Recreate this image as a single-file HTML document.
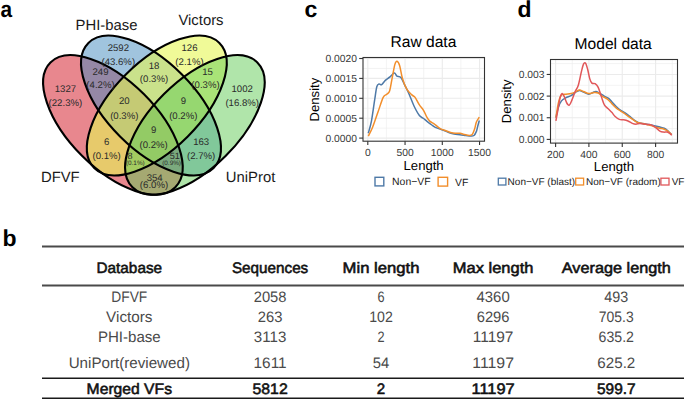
<!DOCTYPE html><html><head><meta charset="utf-8"><style>html,body{margin:0;padding:0;background:#fff;}svg{display:block;}text{font-family:"Liberation Sans",sans-serif;text-rendering:geometricPrecision;}</style></head><body>
<svg width="685" height="400" viewBox="0 0 685 400">
<rect width="685" height="400" fill="#fff"/>
<text x="304.5" y="17.1" font-size="23" font-weight="bold" fill="#000">c</text>
<text x="517.5" y="17.1" font-size="23" font-weight="bold" fill="#000">d</text>
<text x="2.5" y="246" font-size="23" font-weight="bold" fill="#000">b</text>
<text x="0.6" y="17.1" font-size="23" font-weight="bold" fill="#000" textLength="11.6" lengthAdjust="spacingAndGlyphs">a</text>
<ellipse cx="112.9" cy="124.9" rx="88.3" ry="43.7" transform="rotate(45 112.9 124.9)" fill="#D10F1D" fill-opacity="0.5"/>
<ellipse cx="151.0" cy="105.5" rx="88.5" ry="43.8" transform="rotate(45 151.0 105.5)" fill="#4189BD" fill-opacity="0.5"/>
<ellipse cx="156.8" cy="105.5" rx="88.5" ry="43.8" transform="rotate(-45 156.8 105.5)" fill="#E6F753" fill-opacity="0.6"/>
<ellipse cx="194.9" cy="124.9" rx="88.3" ry="43.7" transform="rotate(-45 194.9 124.9)" fill="#61CB55" fill-opacity="0.5"/>
<ellipse cx="112.9" cy="124.9" rx="88.3" ry="43.7" transform="rotate(45 112.9 124.9)" fill="none" stroke="#000" stroke-width="2.1"/>
<ellipse cx="151.0" cy="105.5" rx="88.5" ry="43.8" transform="rotate(45 151.0 105.5)" fill="none" stroke="#000" stroke-width="2.1"/>
<ellipse cx="156.8" cy="105.5" rx="88.5" ry="43.8" transform="rotate(-45 156.8 105.5)" fill="none" stroke="#000" stroke-width="2.1"/>
<ellipse cx="194.9" cy="124.9" rx="88.3" ry="43.7" transform="rotate(-45 194.9 124.9)" fill="none" stroke="#000" stroke-width="2.1"/>
<text x="106.5" y="29.6" font-size="14.85" text-anchor="middle" fill="#1a1a1a">PHI-base</text>
<text x="201" y="24.6" font-size="14.85" text-anchor="middle" fill="#1a1a1a">Victors</text>
<text x="60.3" y="182.3" font-size="14.85" text-anchor="middle" fill="#1a1a1a">DFVF</text>
<text x="250.6" y="182.3" font-size="14.85" text-anchor="middle" fill="#1a1a1a">UniProt</text>
<text x="118.3" y="51.0" font-size="9.6" text-anchor="middle" fill="#2a2a2a">2592</text>
<text x="118.3" y="65.0" font-size="9.6" text-anchor="middle" fill="#2a2a2a">(43.6%)</text>
<text x="189.5" y="50.9" font-size="9.6" text-anchor="middle" fill="#2a2a2a">126</text>
<text x="189.5" y="64.8" font-size="9.6" text-anchor="middle" fill="#2a2a2a">(2.1%)</text>
<text x="65.4" y="92.0" font-size="9.6" text-anchor="middle" fill="#2a2a2a">1327</text>
<text x="65.4" y="105.9" font-size="9.6" text-anchor="middle" fill="#2a2a2a">(22.3%)</text>
<text x="242.2" y="92.0" font-size="9.6" text-anchor="middle" fill="#2a2a2a">1002</text>
<text x="242.2" y="105.9" font-size="9.6" text-anchor="middle" fill="#2a2a2a">(16.8%)</text>
<text x="100.5" y="74.6" font-size="9.6" text-anchor="middle" fill="#2a2a2a">249</text>
<text x="100.5" y="88.2" font-size="9.6" text-anchor="middle" fill="#2a2a2a">(4.2%)</text>
<text x="154" y="69.0" font-size="9.6" text-anchor="middle" fill="#2a2a2a">18</text>
<text x="154" y="82.4" font-size="9.6" text-anchor="middle" fill="#2a2a2a">(0.3%)</text>
<text x="124.3" y="104.3" font-size="9.6" text-anchor="middle" fill="#2a2a2a">20</text>
<text x="124.3" y="118.5" font-size="9.6" text-anchor="middle" fill="#2a2a2a">(0.3%)</text>
<text x="183.3" y="104.3" font-size="9.6" text-anchor="middle" fill="#2a2a2a">9</text>
<text x="183.3" y="118.5" font-size="9.6" text-anchor="middle" fill="#2a2a2a">(0.2%)</text>
<text x="153.6" y="132.9" font-size="9.6" text-anchor="middle" fill="#2a2a2a">9</text>
<text x="153.6" y="147.7" font-size="9.6" text-anchor="middle" fill="#2a2a2a">(0.2%)</text>
<text x="106.7" y="145.1" font-size="9.6" text-anchor="middle" fill="#2a2a2a">6</text>
<text x="106.7" y="158.8" font-size="9.6" text-anchor="middle" fill="#2a2a2a">(0.1%)</text>
<text x="201.2" y="145.0" font-size="9.6" text-anchor="middle" fill="#2a2a2a">163</text>
<text x="201.2" y="158.7" font-size="9.6" text-anchor="middle" fill="#2a2a2a">(2.7%)</text>
<text x="207.5" y="74.6" font-size="9.6" text-anchor="middle" fill="#2a2a2a">15</text>
<text x="205.5" y="88.3" font-size="9.6" text-anchor="middle" fill="#2a2a2a">(0.3%)</text>
<text x="154.7" y="180.9" font-size="9.6" text-anchor="middle" fill="#2a2a2a">354</text>
<text x="154" y="188.0" font-size="9.6" text-anchor="middle" fill="#2a2a2a">(6.0%)</text>
<text x="127.4" y="158.9" font-size="9.1" fill="#2a2a2a">8</text>
<text x="125.9" y="165.2" font-size="6.4" fill="#2a2a2a">(0.1%)</text>
<text x="179.8" y="158.9" font-size="9.1" text-anchor="end" fill="#2a2a2a">51</text>
<text x="181" y="165.2" font-size="6.4" text-anchor="end" fill="#2a2a2a">(0.9%)</text>
<rect x="363" y="57.5" width="121.5" height="83.69999999999999" fill="#fff"/>
<line x1="386.4" y1="57.5" x2="386.4" y2="141.2" stroke="#EBEBEB" stroke-width="0.6"/>
<line x1="423.7" y1="57.5" x2="423.7" y2="141.2" stroke="#EBEBEB" stroke-width="0.6"/>
<line x1="460.9" y1="57.5" x2="460.9" y2="141.2" stroke="#EBEBEB" stroke-width="0.6"/>
<line x1="363" y1="128.15" x2="484.5" y2="128.15" stroke="#EBEBEB" stroke-width="0.6"/>
<line x1="363" y1="108.25" x2="484.5" y2="108.25" stroke="#EBEBEB" stroke-width="0.6"/>
<line x1="363" y1="88.35" x2="484.5" y2="88.35" stroke="#EBEBEB" stroke-width="0.6"/>
<line x1="363" y1="68.45" x2="484.5" y2="68.45" stroke="#EBEBEB" stroke-width="0.6"/>
<line x1="367.8" y1="57.5" x2="367.8" y2="141.2" stroke="#EBEBEB" stroke-width="1.1"/>
<line x1="405.05" y1="57.5" x2="405.05" y2="141.2" stroke="#EBEBEB" stroke-width="1.1"/>
<line x1="442.3" y1="57.5" x2="442.3" y2="141.2" stroke="#EBEBEB" stroke-width="1.1"/>
<line x1="479.55" y1="57.5" x2="479.55" y2="141.2" stroke="#EBEBEB" stroke-width="1.1"/>
<line x1="363" y1="138.1" x2="484.5" y2="138.1" stroke="#EBEBEB" stroke-width="1.1"/>
<line x1="363" y1="118.2" x2="484.5" y2="118.2" stroke="#EBEBEB" stroke-width="1.1"/>
<line x1="363" y1="98.3" x2="484.5" y2="98.3" stroke="#EBEBEB" stroke-width="1.1"/>
<line x1="363" y1="78.4" x2="484.5" y2="78.4" stroke="#EBEBEB" stroke-width="1.1"/>
<line x1="363" y1="58.5" x2="484.5" y2="58.5" stroke="#EBEBEB" stroke-width="1.1"/>
<path d="M368.30,133.20 C368.83,131.13 370.43,126.40 371.50,120.80 C372.57,115.20 373.82,105.27 374.70,99.60 C375.58,93.93 376.08,89.40 376.80,86.80 C377.52,84.20 378.18,84.35 379.00,84.00 C379.82,83.65 380.65,85.30 381.70,84.70 C382.75,84.10 383.98,81.65 385.30,80.40 C386.62,79.15 388.10,78.43 389.60,77.20 C391.10,75.97 393.07,73.18 394.30,73.00 C395.53,72.82 395.90,75.33 397.00,76.10 C398.10,76.87 399.65,76.17 400.90,77.60 C402.15,79.03 403.20,82.10 404.50,84.70 C405.80,87.30 407.12,89.65 408.70,93.20 C410.28,96.75 412.22,102.28 414.00,106.00 C415.78,109.72 417.82,113.42 419.40,115.50 C420.98,117.58 422.23,117.52 423.50,118.50 C424.77,119.48 425.62,120.32 427.00,121.40 C428.38,122.48 430.42,124.02 431.80,125.00 C433.18,125.98 433.93,126.62 435.30,127.30 C436.67,127.98 438.43,128.52 440.00,129.10 C441.57,129.68 443.13,130.18 444.70,130.80 C446.27,131.42 447.83,132.25 449.40,132.80 C450.97,133.35 452.33,133.78 454.10,134.10 C455.87,134.42 458.05,134.47 460.00,134.70 C461.95,134.93 464.05,135.27 465.80,135.50 C467.55,135.73 469.13,136.10 470.50,136.10 C471.87,136.10 473.02,136.28 474.00,135.50 C474.98,134.72 475.80,132.87 476.40,131.40 C477.00,129.93 477.12,128.52 477.60,126.70 C478.08,124.88 479.02,121.53 479.30,120.50" fill="none" stroke="#4E79A7" stroke-width="1.5" stroke-linejoin="round"/>
<path d="M368.30,136.10 C369.02,134.62 371.00,131.17 372.60,127.20 C374.20,123.23 376.13,117.27 377.90,112.30 C379.67,107.33 381.72,100.42 383.20,97.40 C384.68,94.38 385.73,95.27 386.80,94.20 C387.87,93.13 388.72,93.65 389.60,91.00 C390.48,88.35 391.22,82.73 392.10,78.30 C392.98,73.87 394.08,67.23 394.90,64.40 C395.72,61.57 396.22,61.12 397.00,61.30 C397.78,61.48 398.70,62.67 399.60,65.50 C400.50,68.33 401.23,74.40 402.40,78.30 C403.57,82.20 405.02,86.13 406.60,88.90 C408.18,91.67 410.48,93.48 411.90,94.90 C413.32,96.32 413.85,95.73 415.10,97.40 C416.35,99.07 418.00,102.75 419.40,104.90 C420.80,107.05 422.23,108.23 423.50,110.30 C424.77,112.37 425.92,115.45 427.00,117.30 C428.08,119.15 428.82,120.32 430.00,121.40 C431.18,122.48 432.83,122.92 434.10,123.80 C435.37,124.68 436.42,125.82 437.60,126.70 C438.78,127.58 439.82,128.42 441.20,129.10 C442.58,129.78 444.33,130.25 445.90,130.80 C447.47,131.35 449.03,132.00 450.60,132.40 C452.17,132.80 453.73,133.07 455.30,133.20 C456.87,133.33 458.43,132.97 460.00,133.20 C461.57,133.43 463.13,134.22 464.70,134.60 C466.27,134.98 468.13,135.53 469.40,135.50 C470.67,135.47 471.43,135.47 472.30,134.40 C473.17,133.33 473.92,131.17 474.60,129.10 C475.28,127.03 475.62,123.98 476.40,122.00 C477.18,120.02 478.82,118.00 479.30,117.20" fill="none" stroke="#F28E2B" stroke-width="1.5" stroke-linejoin="round"/>
<rect x="363" y="57.5" width="121.5" height="83.69999999999999" fill="none" stroke="#333" stroke-width="1.1"/>
<line x1="367.8" y1="141.2" x2="367.8" y2="145.0" stroke="#333" stroke-width="1.1"/>
<text x="367.8" y="155.7" font-size="10.3" text-anchor="middle" fill="#383838">0</text>
<line x1="405.05" y1="141.2" x2="405.05" y2="145.0" stroke="#333" stroke-width="1.1"/>
<text x="405.05" y="155.7" font-size="10.3" text-anchor="middle" fill="#383838">500</text>
<line x1="442.3" y1="141.2" x2="442.3" y2="145.0" stroke="#333" stroke-width="1.1"/>
<text x="442.3" y="155.7" font-size="10.3" text-anchor="middle" fill="#383838">1000</text>
<line x1="479.55" y1="141.2" x2="479.55" y2="145.0" stroke="#333" stroke-width="1.1"/>
<text x="479.55" y="155.7" font-size="10.3" text-anchor="middle" fill="#383838">1500</text>
<line x1="359.2" y1="138.1" x2="363" y2="138.1" stroke="#333" stroke-width="1.1"/>
<text x="357" y="141.79999999999998" font-size="10.3" text-anchor="end" fill="#383838">0.0000</text>
<line x1="359.2" y1="118.2" x2="363" y2="118.2" stroke="#333" stroke-width="1.1"/>
<text x="357" y="121.9" font-size="10.3" text-anchor="end" fill="#383838">0.0005</text>
<line x1="359.2" y1="98.3" x2="363" y2="98.3" stroke="#333" stroke-width="1.1"/>
<text x="357" y="102.0" font-size="10.3" text-anchor="end" fill="#383838">0.0010</text>
<line x1="359.2" y1="78.4" x2="363" y2="78.4" stroke="#333" stroke-width="1.1"/>
<text x="357" y="82.10000000000001" font-size="10.3" text-anchor="end" fill="#383838">0.0015</text>
<line x1="359.2" y1="58.5" x2="363" y2="58.5" stroke="#333" stroke-width="1.1"/>
<text x="357" y="62.2" font-size="10.3" text-anchor="end" fill="#383838">0.0020</text>
<text x="423.4" y="47.1" font-size="15.6" text-anchor="middle" fill="#000">Raw data</text>
<text x="423.6" y="169.6" font-size="13.1" text-anchor="middle" fill="#000">Length</text>
<text transform="translate(318.6,99.6) rotate(-90)" x="0" y="0" font-size="13.1" text-anchor="middle" fill="#000">Density</text>
<rect x="375" y="177.3" width="8.8" height="8.6" fill="#fff" stroke="#4E79A7" stroke-width="1.4"/>
<text x="392.1" y="185.4" font-size="10.4" fill="#1a1a1a">Non−VF</text>
<rect x="438.1" y="177.3" width="9.5" height="8.8" fill="#fff" stroke="#F28E2B" stroke-width="1.4"/>
<text x="455" y="185.5" font-size="10.4" fill="#1a1a1a">VF</text>
<rect x="550.5" y="59.5" width="127.0" height="83.6" fill="#fff"/>
<line x1="572.25" y1="59.5" x2="572.25" y2="143.1" stroke="#EBEBEB" stroke-width="0.6"/>
<line x1="605.6" y1="59.5" x2="605.6" y2="143.1" stroke="#EBEBEB" stroke-width="0.6"/>
<line x1="638.9" y1="59.5" x2="638.9" y2="143.1" stroke="#EBEBEB" stroke-width="0.6"/>
<line x1="672.25" y1="59.5" x2="672.25" y2="143.1" stroke="#EBEBEB" stroke-width="0.6"/>
<line x1="550.5" y1="128.6" x2="677.5" y2="128.6" stroke="#EBEBEB" stroke-width="0.6"/>
<line x1="550.5" y1="106.9" x2="677.5" y2="106.9" stroke="#EBEBEB" stroke-width="0.6"/>
<line x1="550.5" y1="85.3" x2="677.5" y2="85.3" stroke="#EBEBEB" stroke-width="0.6"/>
<line x1="550.5" y1="63.6" x2="677.5" y2="63.6" stroke="#EBEBEB" stroke-width="0.6"/>
<line x1="555.6" y1="59.5" x2="555.6" y2="143.1" stroke="#EBEBEB" stroke-width="1.1"/>
<line x1="588.9" y1="59.5" x2="588.9" y2="143.1" stroke="#EBEBEB" stroke-width="1.1"/>
<line x1="622.25" y1="59.5" x2="622.25" y2="143.1" stroke="#EBEBEB" stroke-width="1.1"/>
<line x1="655.6" y1="59.5" x2="655.6" y2="143.1" stroke="#EBEBEB" stroke-width="1.1"/>
<line x1="550.5" y1="139.4" x2="677.5" y2="139.4" stroke="#EBEBEB" stroke-width="1.1"/>
<line x1="550.5" y1="117.75" x2="677.5" y2="117.75" stroke="#EBEBEB" stroke-width="1.1"/>
<line x1="550.5" y1="96.1" x2="677.5" y2="96.1" stroke="#EBEBEB" stroke-width="1.1"/>
<line x1="550.5" y1="74.45" x2="677.5" y2="74.45" stroke="#EBEBEB" stroke-width="1.1"/>
<path d="M555.90,117.70 C556.32,115.95 557.47,110.00 558.40,107.20 C559.33,104.40 560.28,102.47 561.50,100.90 C562.72,99.33 564.12,98.67 565.70,97.80 C567.28,96.93 569.42,96.58 571.00,95.70 C572.58,94.82 573.80,93.38 575.20,92.50 C576.60,91.62 578.02,90.47 579.40,90.40 C580.78,90.33 581.93,91.47 583.50,92.10 C585.07,92.73 587.22,94.13 588.80,94.20 C590.38,94.27 591.78,92.95 593.00,92.50 C594.22,92.05 594.88,91.32 596.10,91.50 C597.32,91.68 598.90,92.80 600.30,93.60 C601.70,94.40 603.10,95.50 604.50,96.30 C605.90,97.10 607.45,97.43 608.70,98.40 C609.95,99.37 610.72,100.70 612.00,102.10 C613.28,103.50 614.95,105.42 616.40,106.80 C617.85,108.18 619.25,109.38 620.70,110.40 C622.15,111.42 623.65,111.93 625.10,112.90 C626.55,113.87 627.95,115.05 629.40,116.20 C630.85,117.35 632.35,118.77 633.80,119.80 C635.25,120.83 636.65,121.80 638.10,122.40 C639.55,123.00 641.05,123.10 642.50,123.40 C643.95,123.70 645.35,123.95 646.80,124.20 C648.25,124.45 649.75,124.60 651.20,124.90 C652.65,125.20 654.05,125.63 655.50,126.00 C656.95,126.37 658.45,126.73 659.90,127.10 C661.35,127.47 662.88,127.60 664.20,128.20 C665.52,128.80 666.58,129.63 667.80,130.70 C669.02,131.77 670.88,133.95 671.50,134.60" fill="none" stroke="#4E79A7" stroke-width="1.5" stroke-linejoin="round"/>
<path d="M555.90,117.70 C556.32,115.25 557.57,106.67 558.40,103.00 C559.23,99.33 559.85,97.17 560.90,95.70 C561.95,94.23 563.02,94.55 564.70,94.20 C566.38,93.85 569.25,93.95 571.00,93.60 C572.75,93.25 573.80,92.70 575.20,92.10 C576.60,91.50 578.02,90.10 579.40,90.00 C580.78,89.90 581.93,90.90 583.50,91.50 C585.07,92.10 587.05,93.43 588.80,93.60 C590.55,93.77 592.43,92.60 594.00,92.50 C595.57,92.40 596.80,92.37 598.20,93.00 C599.60,93.63 600.82,95.25 602.40,96.30 C603.98,97.35 606.10,98.03 607.70,99.30 C609.30,100.57 610.55,102.42 612.00,103.90 C613.45,105.38 614.95,107.00 616.40,108.20 C617.85,109.40 619.25,110.13 620.70,111.10 C622.15,112.07 623.65,112.98 625.10,114.00 C626.55,115.02 627.95,116.17 629.40,117.20 C630.85,118.23 632.35,119.28 633.80,120.20 C635.25,121.12 636.65,122.17 638.10,122.70 C639.55,123.23 641.05,123.10 642.50,123.40 C643.95,123.70 645.35,124.13 646.80,124.50 C648.25,124.87 649.75,125.17 651.20,125.60 C652.65,126.03 654.05,126.67 655.50,127.10 C656.95,127.53 658.45,127.85 659.90,128.20 C661.35,128.55 662.88,128.72 664.20,129.20 C665.52,129.68 666.58,130.20 667.80,131.10 C669.02,132.00 670.88,134.02 671.50,134.60" fill="none" stroke="#F28E2B" stroke-width="1.5" stroke-linejoin="round"/>
<path d="M555.90,120.80 C556.25,118.88 557.30,113.13 558.00,109.30 C558.70,105.47 559.40,100.42 560.10,97.80 C560.80,95.18 561.50,93.78 562.20,93.60 C562.90,93.42 563.53,95.13 564.30,96.70 C565.07,98.27 565.97,101.60 566.80,103.00 C567.63,104.40 568.43,105.62 569.30,105.10 C570.17,104.58 571.02,102.17 572.00,99.90 C572.98,97.63 574.15,93.95 575.20,91.50 C576.25,89.05 577.27,88.52 578.30,85.20 C579.33,81.88 580.53,75.10 581.40,71.60 C582.27,68.10 582.80,65.60 583.50,64.20 C584.20,62.80 584.90,62.32 585.60,63.20 C586.30,64.08 587.00,66.88 587.70,69.50 C588.40,72.12 589.10,76.63 589.80,78.90 C590.50,81.17 591.02,82.30 591.90,83.10 C592.78,83.90 594.05,83.00 595.10,83.70 C596.15,84.40 597.15,85.13 598.20,87.30 C599.25,89.47 600.35,93.73 601.40,96.70 C602.45,99.67 603.28,103.00 604.50,105.10 C605.72,107.20 607.45,108.05 608.70,109.30 C609.95,110.55 610.97,111.45 612.00,112.60 C613.03,113.75 613.68,115.07 614.90,116.20 C616.12,117.33 617.85,118.80 619.30,119.40 C620.75,120.00 622.15,119.53 623.60,119.80 C625.05,120.07 626.55,120.40 628.00,121.00 C629.45,121.60 630.98,122.87 632.30,123.40 C633.62,123.93 634.68,124.20 635.90,124.20 C637.12,124.20 638.27,123.45 639.60,123.40 C640.93,123.35 642.45,123.72 643.90,123.90 C645.35,124.08 647.08,124.33 648.30,124.50 C649.52,124.67 650.00,124.42 651.20,124.90 C652.40,125.38 654.05,126.37 655.50,127.40 C656.95,128.43 658.57,130.32 659.90,131.10 C661.23,131.88 662.30,131.93 663.50,132.10 C664.70,132.27 666.02,131.85 667.10,132.10 C668.18,132.35 669.22,133.07 670.00,133.60 C670.78,134.13 671.50,135.02 671.80,135.30" fill="none" stroke="#E15759" stroke-width="1.5" stroke-linejoin="round"/>
<rect x="550.5" y="59.5" width="127.0" height="83.6" fill="none" stroke="#333" stroke-width="1.1"/>
<line x1="555.6" y1="143.1" x2="555.6" y2="146.9" stroke="#333" stroke-width="1.1"/>
<text x="555.6" y="157.6" font-size="10.3" text-anchor="middle" fill="#383838">200</text>
<line x1="588.9" y1="143.1" x2="588.9" y2="146.9" stroke="#333" stroke-width="1.1"/>
<text x="588.9" y="157.6" font-size="10.3" text-anchor="middle" fill="#383838">400</text>
<line x1="622.25" y1="143.1" x2="622.25" y2="146.9" stroke="#333" stroke-width="1.1"/>
<text x="622.25" y="157.6" font-size="10.3" text-anchor="middle" fill="#383838">600</text>
<line x1="655.6" y1="143.1" x2="655.6" y2="146.9" stroke="#333" stroke-width="1.1"/>
<text x="655.6" y="157.6" font-size="10.3" text-anchor="middle" fill="#383838">800</text>
<line x1="546.7" y1="139.4" x2="550.5" y2="139.4" stroke="#333" stroke-width="1.1"/>
<text x="544.5" y="143.1" font-size="10.3" text-anchor="end" fill="#383838">0.000</text>
<line x1="546.7" y1="117.75" x2="550.5" y2="117.75" stroke="#333" stroke-width="1.1"/>
<text x="544.5" y="121.45" font-size="10.3" text-anchor="end" fill="#383838">0.001</text>
<line x1="546.7" y1="96.1" x2="550.5" y2="96.1" stroke="#333" stroke-width="1.1"/>
<text x="544.5" y="99.8" font-size="10.3" text-anchor="end" fill="#383838">0.002</text>
<line x1="546.7" y1="74.45" x2="550.5" y2="74.45" stroke="#333" stroke-width="1.1"/>
<text x="544.5" y="78.15" font-size="10.3" text-anchor="end" fill="#383838">0.003</text>
<text x="613.2" y="48.7" font-size="15.6" text-anchor="middle" fill="#000">Model data</text>
<text x="613.9" y="171.3" font-size="13.1" text-anchor="middle" fill="#000">Length</text>
<text transform="translate(511.2,101.3) rotate(-90)" x="0" y="0" font-size="13.1" text-anchor="middle" fill="#000">Density</text>
<rect x="498.3" y="178.2" width="7.6" height="6.8" fill="#fff" stroke="#4E79A7" stroke-width="1.3"/>
<text x="507.6" y="185.4" font-size="10" fill="#1a1a1a">Non−VF (blast)</text>
<rect x="575.7" y="178.2" width="7.9" height="6.8" fill="#fff" stroke="#F28E2B" stroke-width="1.3"/>
<text x="586" y="185.4" font-size="10" fill="#1a1a1a">Non−VF (radom)</text>
<rect x="660.9" y="178.2" width="8.1" height="6.8" fill="#fff" stroke="#E15759" stroke-width="1.3"/>
<text x="671.7" y="185.4" font-size="10" fill="#1a1a1a">VF</text>
<line x1="42" y1="246.5" x2="684" y2="246.5" stroke="#4a4a4a" stroke-width="2"/>
<line x1="42" y1="285.5" x2="684" y2="285.5" stroke="#4a4a4a" stroke-width="2"/>
<line x1="42" y1="378.3" x2="684" y2="378.3" stroke="#1a1a1a" stroke-width="1.6"/>
<line x1="42" y1="398.3" x2="684" y2="398.3" stroke="#1a1a1a" stroke-width="1.6"/>
<text x="129.3" y="272.6" font-size="15.2" stroke="#111" stroke-width="0.55" text-anchor="middle" fill="#111" textLength="65.6" lengthAdjust="spacingAndGlyphs">Database</text>
<text x="270.1" y="272.6" font-size="15.2" stroke="#111" stroke-width="0.55" text-anchor="middle" fill="#111" textLength="76.3" lengthAdjust="spacingAndGlyphs">Sequences</text>
<text x="381" y="272.6" font-size="15.2" stroke="#111" stroke-width="0.55" text-anchor="middle" fill="#111" textLength="76.9" lengthAdjust="spacingAndGlyphs">Min length</text>
<text x="493.1" y="272.6" font-size="15.2" stroke="#111" stroke-width="0.55" text-anchor="middle" fill="#111" textLength="80.6" lengthAdjust="spacingAndGlyphs">Max length</text>
<text x="616.3" y="272.6" font-size="15.2" stroke="#111" stroke-width="0.55" text-anchor="middle" fill="#111" textLength="109.1" lengthAdjust="spacingAndGlyphs">Average length</text>
<text x="129.3" y="301.6" font-size="15.2" text-anchor="middle" fill="#4a4a4a" textLength="36" lengthAdjust="spacingAndGlyphs">DFVF</text>
<text x="270.1" y="301.6" font-size="15.2" text-anchor="middle" fill="#4a4a4a" textLength="32.8" lengthAdjust="spacingAndGlyphs">2058</text>
<text x="381" y="301.6" font-size="15.2" text-anchor="middle" fill="#4a4a4a" textLength="7.1" lengthAdjust="spacingAndGlyphs">6</text>
<text x="493.1" y="301.6" font-size="15.2" text-anchor="middle" fill="#4a4a4a" textLength="33.2" lengthAdjust="spacingAndGlyphs">4360</text>
<text x="616.3" y="301.6" font-size="15.2" text-anchor="middle" fill="#4a4a4a" textLength="23.9" lengthAdjust="spacingAndGlyphs">493</text>
<text x="129.3" y="321.9" font-size="15.2" text-anchor="middle" fill="#4a4a4a" textLength="46.4" lengthAdjust="spacingAndGlyphs">Victors</text>
<text x="270.1" y="321.9" font-size="15.2" text-anchor="middle" fill="#4a4a4a" textLength="24.7" lengthAdjust="spacingAndGlyphs">263</text>
<text x="381" y="321.9" font-size="15.2" text-anchor="middle" fill="#4a4a4a" textLength="23.6" lengthAdjust="spacingAndGlyphs">102</text>
<text x="493.1" y="321.9" font-size="15.2" text-anchor="middle" fill="#4a4a4a" textLength="32.8" lengthAdjust="spacingAndGlyphs">6296</text>
<text x="616.3" y="321.9" font-size="15.2" text-anchor="middle" fill="#4a4a4a" textLength="34.9" lengthAdjust="spacingAndGlyphs">705.3</text>
<text x="129.3" y="341.9" font-size="15.2" text-anchor="middle" fill="#4a4a4a" textLength="62.8" lengthAdjust="spacingAndGlyphs">PHI-base</text>
<text x="270.1" y="341.9" font-size="15.2" text-anchor="middle" fill="#4a4a4a" textLength="32.5" lengthAdjust="spacingAndGlyphs">3113</text>
<text x="381" y="341.9" font-size="15.2" text-anchor="middle" fill="#4a4a4a" textLength="7.1" lengthAdjust="spacingAndGlyphs">2</text>
<text x="493.1" y="341.9" font-size="15.2" text-anchor="middle" fill="#4a4a4a" textLength="40.7" lengthAdjust="spacingAndGlyphs">11197</text>
<text x="616.3" y="341.9" font-size="15.2" text-anchor="middle" fill="#4a4a4a" textLength="35.4" lengthAdjust="spacingAndGlyphs">635.2</text>
<text x="129.3" y="367.9" font-size="15.2" text-anchor="middle" fill="#4a4a4a" textLength="121.3" lengthAdjust="spacingAndGlyphs">UniPort(reviewed)</text>
<text x="270.1" y="367.9" font-size="15.2" text-anchor="middle" fill="#4a4a4a" textLength="33.1" lengthAdjust="spacingAndGlyphs">1611</text>
<text x="381" y="367.9" font-size="15.2" text-anchor="middle" fill="#4a4a4a" textLength="16.5" lengthAdjust="spacingAndGlyphs">54</text>
<text x="493.1" y="367.9" font-size="15.2" text-anchor="middle" fill="#4a4a4a" textLength="41.7" lengthAdjust="spacingAndGlyphs">11197</text>
<text x="616.3" y="367.9" font-size="15.2" text-anchor="middle" fill="#4a4a4a" textLength="38" lengthAdjust="spacingAndGlyphs">625.2</text>
<text x="129.3" y="394.2" font-size="15.2" stroke="#111" stroke-width="0.55" text-anchor="middle" fill="#111" textLength="85.4" lengthAdjust="spacingAndGlyphs">Merged VFs</text>
<text x="270.1" y="394.2" font-size="15.2" stroke="#111" stroke-width="0.55" text-anchor="middle" fill="#111" textLength="35.2" lengthAdjust="spacingAndGlyphs">5812</text>
<text x="381" y="394.2" font-size="15.2" stroke="#111" stroke-width="0.55" text-anchor="middle" fill="#111" textLength="8.4" lengthAdjust="spacingAndGlyphs">2</text>
<text x="493.1" y="394.2" font-size="15.2" stroke="#111" stroke-width="0.55" text-anchor="middle" fill="#111" textLength="43.2" lengthAdjust="spacingAndGlyphs">11197</text>
<text x="616.3" y="394.2" font-size="15.2" stroke="#111" stroke-width="0.55" text-anchor="middle" fill="#111" textLength="38.6" lengthAdjust="spacingAndGlyphs">599.7</text>
</svg></body></html>
